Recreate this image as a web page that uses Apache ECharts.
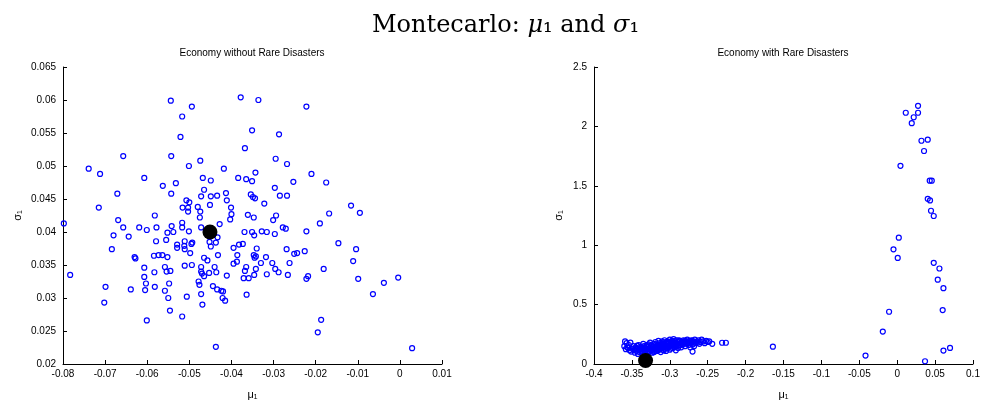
<!DOCTYPE html>
<html>
<head>
<meta charset="utf-8">
<script src="https://cdn.jsdelivr.net/npm/echarts@6/dist/echarts.min.js"></script>
<style>html,body{margin:0;padding:0;background:#fff}#c{width:984px;height:405px}</style>
</head>
<body>
<div id="c"></div>
<script>
// ---- data ----
const mainTitle = 'Montecarlo: {it|μ}₁ and {it|σ}₁';
const leftTitle = 'Economy without Rare Disasters';
const rightTitle = 'Economy with Rare Disasters';
const xName = 'μ₁';
const yName = 'σ₁';

const leftXTicks = { min: -0.08, max: 0.01, interval: 0.01 };
const leftYTicks = { min: 0.02, max: 0.065, interval: 0.005 };
const rightXTicks = { min: -0.4, max: 0.1, interval: 0.05 };
const rightYTicks = { min: 0, max: 2.5, interval: 0.5 };

const leftTrue = [[-0.0451, 0.0400]];
const rightTrue = [[-0.332, 0.03]];

const leftSims = [
[-0.0544,0.0599],[-0.0378,0.0604],[-0.0336,0.0600],[-0.0494,0.0590],[-0.0517,0.0575],
[-0.0351,0.0554],[-0.0287,0.0548],[-0.0521,0.0544],[-0.0368,0.0527],[-0.0543,0.0515],
[-0.0295,0.0511],[-0.0474,0.0508],[-0.0501,0.0500],[-0.0268,0.0503],[-0.0418,0.0496],
[-0.0343,0.0490],[-0.0468,0.0482],[-0.0384,0.0482],[-0.0365,0.0480],[-0.0449,0.0478],
[-0.0351,0.0477],[-0.0532,0.0474],[-0.0253,0.0476],[-0.0563,0.0470],[-0.0297,0.0467],
[-0.0465,0.0464],[-0.0543,0.0458],[-0.0413,0.0459],[-0.0434,0.0455],[-0.0449,0.0454],
[-0.0472,0.0454],[-0.0354,0.0457],[-0.0349,0.0453],[-0.0344,0.0451],[-0.0285,0.0455],
[-0.0268,0.0455],[-0.0507,0.0448],[-0.0500,0.0445],[-0.0411,0.0448],[-0.0322,0.0443],
[-0.0451,0.0441],[-0.0516,0.0437],[-0.0503,0.0437],[-0.0480,0.0438],[-0.0401,0.0437],
[-0.0582,0.0425],[-0.0503,0.0431],[-0.0474,0.0431],[-0.0400,0.0427],[-0.0361,0.0426],
[-0.0347,0.0422],[-0.0294,0.0425],[-0.0301,0.0418],[-0.0475,0.0422],[-0.0403,0.0419],
[-0.0517,0.0414],[-0.0578,0.0407],[-0.0542,0.0409],[-0.0517,0.0407],[-0.0428,0.0412],
[-0.0472,0.0407],[-0.0552,0.0399],[-0.0538,0.0400],[-0.0501,0.0401],[-0.0369,0.0400],
[-0.0351,0.0400],[-0.0346,0.0395],[-0.0328,0.0401],[-0.0316,0.0400],[-0.0297,0.0397],
[-0.0278,0.0407],[-0.0271,0.0405],[-0.0579,0.0386],[-0.0555,0.0388],[-0.0511,0.0386],
[-0.0493,0.0384],[-0.0495,0.0382],[-0.0433,0.0392],[-0.0452,0.0385],[-0.0437,0.0384],
[-0.0449,0.0378],[-0.0529,0.0381],[-0.0529,0.0376],[-0.0512,0.0379],[-0.0511,0.0374],
[-0.0382,0.0381],[-0.0373,0.0382],[-0.0395,0.0376],[-0.0340,0.0375],[-0.0269,0.0374],
[-0.0251,0.0367],[-0.0244,0.0368],[-0.0584,0.0364],[-0.0573,0.0365],[-0.0564,0.0365],
[-0.0552,0.0362],[-0.0498,0.0368],[-0.0432,0.0365],[-0.0465,0.0361],[-0.0457,0.0357],
[-0.0386,0.0365],[-0.0347,0.0365],[-0.0345,0.0361],[-0.0342,0.0363],[-0.0318,0.0362],
[-0.0387,0.0355],[-0.0395,0.0352],[-0.0330,0.0353],[-0.0303,0.0353],[-0.0262,0.0353],
[-0.0558,0.0347],[-0.0511,0.0349],[-0.0494,0.0350],[-0.0472,0.0347],[-0.0440,0.0347],
[-0.0365,0.0347],[-0.0368,0.0341],[-0.0342,0.0344],[-0.0296,0.0344],[-0.0288,0.0339],
[-0.0583,0.0339],[-0.0554,0.0340],[-0.0545,0.0341],[-0.0472,0.0340],[-0.0470,0.0337],
[-0.0453,0.0338],[-0.0436,0.0339],[-0.0465,0.0333],[-0.0411,0.0334],[-0.0346,0.0335],
[-0.0316,0.0336],[-0.0266,0.0335],[-0.0371,0.0330],[-0.0359,0.0330],[-0.0548,0.0322],
[-0.0478,0.0325],[-0.0476,0.0320],[-0.0582,0.0317],[-0.0444,0.0318],[-0.0434,0.0313],
[-0.0424,0.0311],[-0.0420,0.0310],[-0.0558,0.0311],[-0.0472,0.0306],[-0.0506,0.0302],
[-0.0364,0.0305],[-0.0550,0.0300],[-0.0421,0.0300],[-0.0415,0.0296],[-0.0469,0.0290],
[-0.0546,0.0281],[-0.0517,0.0272],[-0.0715,0.0437],[-0.0798,0.0413],[-0.0783,0.0335],
[-0.0669,0.0418],[-0.0657,0.0407],[-0.0680,0.0395],[-0.0644,0.0393],[-0.0684,0.0374],
[-0.0619,0.0407],[-0.0601,0.0403],[-0.0630,0.0362],[-0.0628,0.0360],[-0.0699,0.0317],
[-0.0702,0.0293],[-0.0639,0.0313],[-0.0607,0.0346],[-0.0607,0.0332],[-0.0603,0.0322],
[-0.0605,0.0312],[-0.0601,0.0266],[-0.0437,0.0226],[-0.0657,0.0515],[-0.0739,0.0496],
[-0.0712,0.0488],[-0.0607,0.0482],[-0.0671,0.0458],[-0.0222,0.0590],[-0.0210,0.0488],
[-0.0175,0.0475],[-0.0116,0.0440],[-0.0168,0.0428],[-0.0095,0.0429],[-0.0190,0.0413],
[-0.0222,0.0401],[-0.0146,0.0383],[-0.0226,0.0371],[-0.0104,0.0374],[-0.0111,0.0356],
[-0.0181,0.0344],[-0.0218,0.0333],[-0.0222,0.0329],[-0.0099,0.0329],[-0.0038,0.0323],
[-0.0004,0.0331],[-0.0064,0.0306],[-0.0187,0.0267],[-0.0195,0.0248],[0.0029,0.0224]
];

const rightSims = [
[-0.359,0.190],[-0.357,0.175],[-0.360,0.150],[-0.356,0.140],[-0.358,0.125],[-0.354,0.160],
[-0.352,0.180],[-0.353,0.115],[-0.350,0.130],[-0.351,0.105],[-0.355,0.135],
[-0.348,0.150],[-0.347,0.120],[-0.346,0.095],[-0.345,0.140],[-0.344,0.110],[-0.343,0.130],
[-0.342,0.085],[-0.341,0.160],[-0.340,0.120],[-0.340,0.100],[-0.339,0.145],[-0.338,0.135],
[-0.337,0.110],[-0.336,0.090],[-0.335,0.170],[-0.335,0.125],[-0.334,0.150],[-0.333,0.100],
[-0.332,0.135],[-0.331,0.115],[-0.330,0.160],[-0.330,0.090],[-0.329,0.145],[-0.328,0.125],
[-0.327,0.105],[-0.326,0.180],[-0.326,0.135],
[-0.325,0.155],[-0.324,0.115],[-0.323,0.095],[-0.322,0.140],[-0.321,0.170],[-0.320,0.125],
[-0.320,0.105],[-0.319,0.185],[-0.318,0.150],[-0.317,0.130],[-0.317,0.110],[-0.316,0.160],
[-0.315,0.140],[-0.315,0.195],[-0.314,0.120],
[-0.313,0.175],[-0.312,0.150],[-0.312,0.100],[-0.311,0.135],[-0.310,0.190],[-0.310,0.160],
[-0.309,0.120],[-0.308,0.170],[-0.307,0.145],[-0.307,0.200],[-0.306,0.130],[-0.305,0.180],
[-0.305,0.110],[-0.304,0.155],[-0.303,0.190],
[-0.302,0.140],[-0.301,0.170],[-0.300,0.205],[-0.300,0.120],[-0.299,0.185],[-0.298,0.155],
[-0.297,0.195],[-0.296,0.135],[-0.295,0.175],[-0.295,0.210],[-0.294,0.160],[-0.293,0.190],
[-0.292,0.145],[-0.292,0.115],[-0.291,0.200],
[-0.290,0.170],[-0.289,0.185],[-0.288,0.155],[-0.287,0.195],[-0.286,0.175],[-0.285,0.140],
[-0.284,0.190],[-0.283,0.165],[-0.282,0.200],[-0.281,0.180],[-0.280,0.150],
[-0.279,0.190],[-0.278,0.170],[-0.277,0.205],[-0.276,0.185],[-0.275,0.160],[-0.274,0.195],
[-0.273,0.140],[-0.272,0.180],[-0.271,0.200],[-0.270,0.105],[-0.270,0.165],[-0.269,0.190],
[-0.268,0.150],[-0.267,0.205],[-0.266,0.175],
[-0.264,0.190],[-0.262,0.200],[-0.261,0.170],[-0.259,0.185],[-0.258,0.205],[-0.256,0.190],
[-0.254,0.175],[-0.252,0.195],[-0.250,0.185],[-0.248,0.190],[-0.244,0.170],
[-0.345,0.125],[-0.343,0.155],[-0.338,0.105],[-0.336,0.140],[-0.333,0.120],[-0.331,0.150],
[-0.329,0.110],[-0.328,0.165],[-0.325,0.130],[-0.323,0.145],[-0.322,0.120],[-0.321,0.100],
[-0.319,0.135],[-0.318,0.165],[-0.316,0.115],[-0.314,0.150],[-0.313,0.130],[-0.311,0.165],
[-0.310,0.140],[-0.309,0.180],[-0.308,0.115],[-0.306,0.160],[-0.304,0.135],[-0.303,0.170],
[-0.302,0.185],[-0.301,0.150],[-0.299,0.130],[-0.298,0.175],[-0.297,0.160],[-0.296,0.190],
[-0.294,0.140],[-0.293,0.170],[-0.291,0.155],[-0.289,0.135],[-0.288,0.200],[-0.286,0.160],
[-0.284,0.175],[-0.282,0.185],[-0.280,0.195],[-0.278,0.180],[-0.276,0.170],[-0.274,0.185],
[-0.272,0.195],[-0.268,0.180],[-0.263,0.180],
[-0.231,0.179],[-0.226,0.179],[-0.164,0.146],
[0.0275,2.173],[0.0113,2.115],[0.0275,2.115],[0.0218,2.077],[0.0192,2.027],
[0.0320,1.879],[0.0403,1.888],[0.0354,1.793],[0.0043,1.668],[0.0429,1.543],
[0.0456,1.543],[0.0403,1.390],[0.0433,1.377],[0.0446,1.290],[0.0482,1.246],
[0.0021,1.063],[-0.0049,0.965],[0.0007,0.893],[0.0482,0.852],[0.0557,0.804],
[0.0535,0.710],[0.0610,0.638],[0.0600,0.454],[-0.0107,0.440],[-0.0190,0.273],
[0.0697,0.135],[0.0610,0.113],[-0.0418,0.071],[0.0367,0.023]
];

// ---- chart ----
const FONT = "'Liberation Sans Narrow','Liberation Sans',Arial,sans-serif";
const SERIF = "'DejaVu Serif','Liberation Serif',serif";
const chart = echarts.init(document.getElementById('c'), null, {renderer: 'canvas'});

function xAxis(idx, t) {
  return {
    type: 'value', gridIndex: idx, min: t.min, max: t.max, interval: t.interval,
    name: xName, nameLocation: 'middle', nameGap: 25,
    nameTextStyle: {fontFamily: FONT, fontSize: 11, color: '#000'},
    axisLine: {show: true, onZero: false, lineStyle: {color: '#000', width: 1}},
    axisTick: {show: true, inside: true, length: 4, lineStyle: {color: '#000'}},
    axisLabel: {fontFamily: FONT, fontSize: 10, color: '#000', margin: 5},
    splitLine: {show: false}
  };
}
function yAxis(idx, t, gap) {
  return {
    type: 'value', gridIndex: idx, min: t.min, max: t.max, interval: t.interval,
    name: yName, nameLocation: 'middle', nameGap: gap, nameRotate: 90,
    nameTextStyle: {fontFamily: FONT, fontSize: 11, color: '#000'},
    axisLine: {show: true, onZero: false, lineStyle: {color: '#000', width: 1}},
    axisTick: {show: true, inside: true, length: 4, lineStyle: {color: '#000'}},
    axisLabel: {fontFamily: FONT, fontSize: 10, color: '#000', margin: 7},
    splitLine: {show: false}
  };
}
const simStyle = {color: 'rgba(0,0,0,0)', borderColor: '#0000ff', borderWidth: 1.2, opacity: 1};
const trueStyle = {color: '#000', opacity: 1};

chart.setOption({
  animation: false,
  backgroundColor: '#fff',
  title: {
    text: mainTitle, left: 367, top: 9,
    textStyle: {fontFamily: SERIF, fontWeight: 'normal', fontSize: 24, color: '#000',
      rich: {it: {fontFamily: SERIF, fontStyle: 'italic', fontSize: 24, color: '#000'}}}
  },
  graphic: [
    {type: 'text', x: 252, y: 53, style: {text: leftTitle, textAlign: 'center', textVerticalAlign: 'middle', font: "10px " + FONT, fill: '#000'}},
    {type: 'text', x: 783, y: 53, style: {text: rightTitle, textAlign: 'center', textVerticalAlign: 'middle', font: "10px " + FONT, fill: '#000'}}
  ],
  grid: [
    {left: 63, top: 67, width: 379, height: 300},
    {left: 594, top: 67, width: 379, height: 300}
  ],
  xAxis: [xAxis(0, leftXTicks), xAxis(1, rightXTicks)],
  yAxis: [yAxis(0, leftYTicks, 40), yAxis(1, rightYTicks, 30)],
  series: [
    {type: 'scatter', xAxisIndex: 0, yAxisIndex: 0, data: leftSims, symbol: 'circle', symbolSize: 5, itemStyle: simStyle, silent: true},
    {type: 'scatter', xAxisIndex: 0, yAxisIndex: 0, data: leftTrue, symbol: 'circle', symbolSize: 15, itemStyle: trueStyle, silent: true, z: 5},
    {type: 'scatter', xAxisIndex: 1, yAxisIndex: 1, data: rightSims, symbol: 'circle', symbolSize: 5, itemStyle: simStyle, silent: true},
    {type: 'scatter', xAxisIndex: 1, yAxisIndex: 1, data: rightTrue, symbol: 'circle', symbolSize: 15, itemStyle: trueStyle, silent: true, z: 5}
  ]
});
</script>
</body>
</html>
